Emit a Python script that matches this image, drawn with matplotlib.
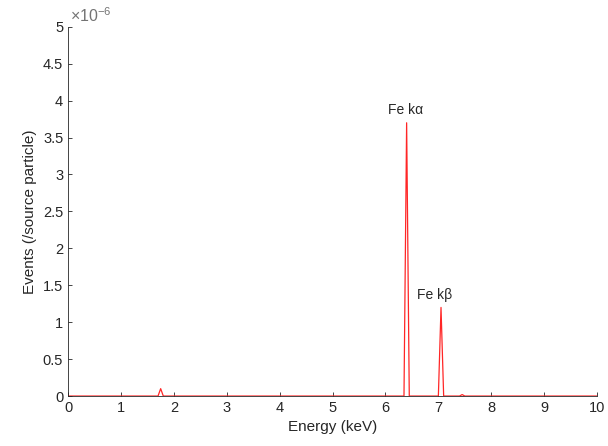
import matplotlib.pyplot as plt
from matplotlib.ticker import FuncFormatter

# spectrum (keV, events per source particle)
energy = [0.0, 1.65, 1.70, 1.75, 1.80, 1.85, 6.30, 6.35, 6.40, 6.45, 6.50,
          6.95, 7.00, 7.05, 7.10, 7.15, 7.40, 7.45, 7.50, 10.0]
events = [0.0, 0.0, 0.0, 0.10e-6, 0.0, 0.0, 0.0, 0.0, 3.70e-6, 0.0, 0.0,
          0.0, 0.0, 1.20e-6, 0.0, 0.0, 0.0, 0.02e-6, 0.0, 0.0]

peak_labels = ["Fe k\u03b1", "Fe k\u03b2"]
peak_pos = [(6.38, 3.78e-6), (6.92, 1.27e-6)]

plt.rcParams['font.family'] = ['Liberation Sans', 'DejaVu Sans']
plt.rcParams['mathtext.fontset'] = 'custom'
plt.rcParams['mathtext.rm'] = 'Liberation Sans'
gray = (0.15, 0.15, 0.15)

fig = plt.figure(figsize=(6.08, 4.46), dpi=100)
ax = fig.add_axes([0.112, 0.112, 0.870, 0.828])

ax.plot(energy, events, color=(1, 0.15, 0.15), lw=0.9)

for lab, (x, y) in zip(peak_labels, peak_pos):
    ax.text(x, y, lab, ha='center', va='bottom', fontsize=10, color=gray)

ax.set_xlim(0, 10)
ax.set_ylim(0, 5e-6)
ax.set_xticks(range(0, 11))
ax.set_yticks([i * 0.5e-6 for i in range(11)])
ax.yaxis.set_major_formatter(FuncFormatter(lambda v, p: '%g' % round(v * 1e6, 3)))

# MATLAB style exponent above the y axis
ax.text(0.003, 1.005, r'$\times\mathregular{10^{-6}}$', transform=ax.transAxes,
        ha='left', va='bottom', fontsize=11.5, color=(0.45, 0.45, 0.45))

ax.spines['top'].set_visible(False)
ax.spines['right'].set_visible(False)
for s in ['left', 'bottom']:
    ax.spines[s].set_color(gray)
    ax.spines[s].set_linewidth(0.6)
ax.tick_params(direction='in', length=3, width=0.6, colors=gray, labelsize=10.5)

ax.set_xlabel('Energy (keV)', fontsize=11, color=gray)
ax.set_ylabel('Events (/source particle)', fontsize=11, color=gray)

fig.savefig('out.png', dpi=100)
